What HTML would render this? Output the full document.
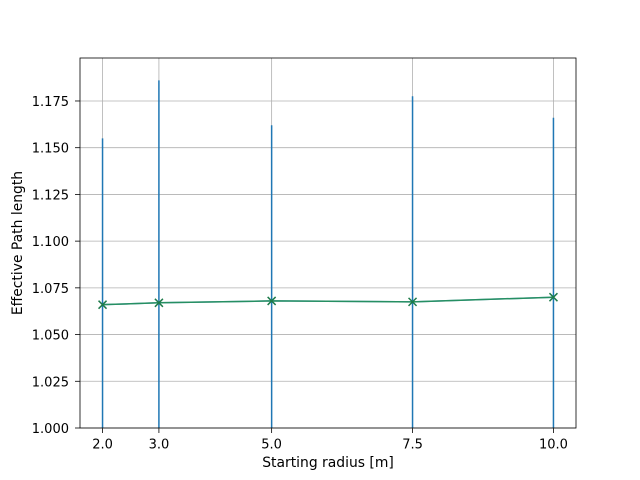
<!DOCTYPE html>
<html><head><meta charset="utf-8"><style>html,body{margin:0;padding:0;background:#fff;overflow:hidden;width:640px;height:480px}svg{display:block;font-family:"DejaVu Sans","Liberation Sans",sans-serif}</style></head>
<body>
<svg id="c" width="640" height="480" viewBox="0 0 640 480"></svg>
<script>
const xValues=[2.0,3.0,5.0,7.5,10.0];
const meanValues=[1.066,1.067,1.068,1.0675,1.070];
const errValues=[0.089,0.119,0.094,0.110,0.096];
const xTicks=[2.0,3.0,5.0,7.5,10.0];
const yTicks=[1.000,1.025,1.050,1.075,1.100,1.125,1.150,1.175];
const L=80,R=576,T=58,B=428,xmin=1.6,xmax=10.4,ymin=1.0,ymax=1.198;
const sx=v=>L+(v-xmin)/(xmax-xmin)*(R-L);
const sy=v=>B-(Math.min(Math.max(v,ymin),ymax)-ymin)/(ymax-ymin)*(B-T);
const svg=document.getElementById('c');const NS='http://www.w3.org/2000/svg';
function mk(t,a,p){const e=document.createElementNS(NS,t);for(const k in a)e.setAttribute(k,a[k]);(p||svg).appendChild(e);return e;}
xTicks.forEach(v=>{const x=sx(v);
const g=mk('line',{x1:x,x2:x,y1:T,y2:B,stroke:'#b0b0b0','stroke-width':0.8});


mk('line',{x1:x,x2:x,y1:B,y2:B+5,stroke:'#000','stroke-width':0.8});
const t=mk('text',{x:x,y:B+20.5,'text-anchor':'middle','font-size':13});t.textContent=v.toFixed(1);

});
yTicks.forEach(v=>{const y=sy(v);
const g=mk('line',{x1:L,x2:R,y1:y,y2:y,stroke:'#b0b0b0','stroke-width':0.8});


mk('line',{x1:L-5,x2:L,y1:y,y2:y,stroke:'#000','stroke-width':0.8});
const t=mk('text',{x:L-11,y:y+5,'text-anchor':'end','font-size':13});t.textContent=v.toFixed(3);

});
xValues.forEach((v,i)=>{const e=mk('line',{x1:sx(v),x2:sx(v),y1:sy(meanValues[i]-errValues[i]),y2:sy(meanValues[i]+errValues[i]),stroke:'#1f77b4','stroke-width':1.5});

});
const pts=xValues.map((v,i)=>sx(v)+','+sy(meanValues[i])).join(' ');
const bl=mk('polyline',{points:pts,fill:'none',stroke:'#1f77b4','stroke-width':1.5});


const gl=mk('polyline',{points:pts,fill:'none',stroke:'#2ca02c','stroke-width':1.5,'stroke-opacity':0.6});


xValues.forEach((v,i)=>{const x=sx(v),y=sy(meanValues[i]);
const m=mk('path',{d:`M${x-4},${y-4}L${x+4},${y+4}M${x-4},${y+4}L${x+4},${y-4}`,stroke:'#1e7b4a','stroke-width':1.5});

});
const f=mk('rect',{x:L,y:T,width:R-L,height:B-T,fill:'none',stroke:'#000','stroke-width':0.8});


const xl=mk('text',{x:(L+R)/2,y:467,'text-anchor':'middle','font-size':13.9});xl.textContent='Starting radius [m]';


const yl=mk('text',{x:22,y:(T+B)/2,'text-anchor':'middle','font-size':13.9,transform:`rotate(-90 22 ${(T+B)/2})`});yl.textContent='Effective Path length';


</script>
</body></html>
